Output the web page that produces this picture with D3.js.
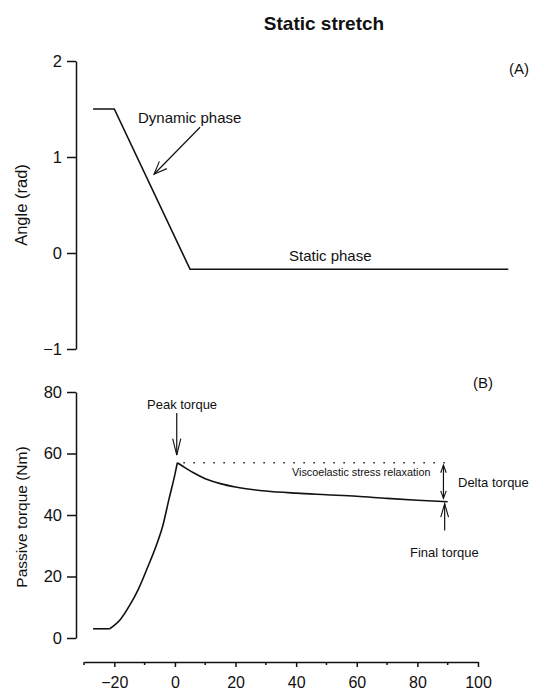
<!DOCTYPE html>
<html><head><meta charset="utf-8">
<script src="https://cdn.jsdelivr.net/npm/d3@7"></script>
<style>
body{margin:0;background:#fff}
svg{display:block}
text{font-family:"Liberation Sans",Arial,sans-serif;fill:#111}
</style>
</head><body>
<svg id="c" width="546" height="693"></svg>
<script>
// ---- data ----
const angleTime   = [-27, -20, 5, 110];
const angleValues = [1.5, 1.5, -0.17, -0.17];

const torqueTime   = [-27, -21.5, -18, -15, -12, -9, -6, -4, -2, 0, 0.8, 3, 6, 10, 15, 20, 30, 40, 50, 60, 70, 80, 90];
const torqueValues = [3, 3, 6, 10.5, 16, 23, 30.5, 36.5, 45, 53.2, 57, 55.6, 53.8, 51.8, 50.2, 49.1, 47.8, 47.1, 46.6, 46.1, 45.4, 44.8, 44.3];

const xTicks      = [-20, 0, 20, 40, 60, 80, 100];
const xMinorTicks = [-30, -10, 10, 30, 50, 70, 90];
const angleTicks  = [2, 1, 0, -1];
const torqueTicks = [0, 20, 40, 60, 80];

const peakTorque = 57, finalTorque = 44.3;
const peakTime = 0.8, finalTime = 90;

// ---- scales ----
const svg = d3.select("#c");
const x  = d3.scaleLinear().domain([-30, 100]).range([84, 478]);
const yA = d3.scaleLinear().domain([-1, 2]).range([349, 61]);
const yB = d3.scaleLinear().domain([0, 80]).range([638, 392]);
const axisX = 76;
const ink = "#111";

// title
svg.append("text").attr("x", 324).attr("y", 23).attr("text-anchor", "middle")
  .attr("dominant-baseline", "central").style("font-size", "19px").style("font-weight", "bold")
  .text("Static stretch");

function styleAxis(g, fs){
  g.select(".domain").attr("stroke", ink).attr("stroke-width", 1.5);
  g.selectAll(".tick line").attr("stroke", ink).attr("stroke-width", 1.5);
  g.selectAll(".tick text").style("font-size", fs).attr("fill", ink)
    .style("font-family", '"Liberation Sans",Arial,sans-serif');
}

// ---- panel A ----
const gA = svg.append("g").attr("transform", `translate(${axisX},0)`)
  .call(d3.axisLeft(yA).tickValues(angleTicks).tickSize(9).tickSizeOuter(0).tickPadding(5).tickFormat(d3.format("d")));
styleAxis(gA, "16.5px");

svg.append("text").attr("transform", `translate(21,${(yA(2) + yA(-1)) / 2}) rotate(-90)`)
  .attr("text-anchor", "middle").attr("dominant-baseline", "central").style("font-size", "16.5px")
  .text("Angle (rad)");

const lineA = d3.line().x((d, i) => x(angleTime[i])).y(d => yA(d));
svg.append("path").datum(angleValues).attr("d", lineA)
  .attr("fill", "none").attr("stroke", ink).attr("stroke-width", 1.6);

svg.append("text").attr("x", 519).attr("y", 68).attr("text-anchor", "middle")
  .attr("dominant-baseline", "central").style("font-size", "15px").text("(A)");

svg.append("text").attr("x", 138).attr("y", 117).attr("dominant-baseline", "central")
  .style("font-size", "15px").text("Dynamic phase");
svg.append("text").attr("x", 289).attr("y", 255).attr("dominant-baseline", "central")
  .style("font-size", "15px").text("Static phase");

function arrow(x1, y1, x2, y2, len, ang, both){
  svg.append("line").attr("x1", x1).attr("y1", y1).attr("x2", x2).attr("y2", y2)
    .attr("stroke", ink).attr("stroke-width", 1.2);
  const head = (tx, ty, fx, fy) => {
    const a = Math.atan2(fy - ty, fx - tx);
    const p1 = [tx + len*Math.cos(a+ang), ty + len*Math.sin(a+ang)];
    const p2 = [tx + len*Math.cos(a-ang), ty + len*Math.sin(a-ang)];
    svg.append("path").attr("d", `M${p1}L${tx},${ty}L${p2}`)
      .attr("fill", "none").attr("stroke", ink).attr("stroke-width", 1.1);
  };
  head(x2, y2, x1, y1);
  if (both) head(x1, y1, x2, y2);
}
// dynamic phase arrow
arrow(x(8.3), yA(1.31), x(-6.9), yA(0.82), 14, 0.38);

// ---- panel B ----
const gB = svg.append("g").attr("transform", `translate(${axisX},0)`)
  .call(d3.axisLeft(yB).tickValues(torqueTicks).tickSize(9).tickSizeOuter(0).tickPadding(5));
styleAxis(gB, "16.5px");

svg.append("text").attr("transform", `translate(21,517) rotate(-90)`)
  .attr("text-anchor", "middle").attr("dominant-baseline", "central").style("font-size", "15.5px")
  .text("Passive torque (Nm)");

// split at peak so the peak stays sharp
const iPeak = d3.maxIndex(torqueValues);
const pts = torqueTime.map((t, i) => [t, torqueValues[i]]);
const lineB = d3.line().curve(d3.curveMonotoneX).x(d => x(d[0])).y(d => yB(d[1]));
[pts.slice(1, iPeak + 1), pts.slice(iPeak)].forEach(seg => {
  svg.append("path").datum(seg).attr("d", lineB)
    .attr("fill", "none").attr("stroke", ink).attr("stroke-width", 1.6);
});
svg.append("path").datum(pts.slice(0, 2)).attr("d", d3.line().x(d => x(d[0])).y(d => yB(d[1])))
  .attr("fill", "none").attr("stroke", ink).attr("stroke-width", 1.6);

// dotted peak reference
svg.append("line").attr("x1", x(peakTime + 2)).attr("x2", x(finalTime))
  .attr("y1", yB(peakTorque)).attr("y2", yB(peakTorque))
  .attr("stroke", ink).attr("stroke-width", 1.4).attr("stroke-dasharray", "1.4,8.6");

svg.append("text").attr("x", 483).attr("y", 382).attr("text-anchor", "middle")
  .attr("dominant-baseline", "central").style("font-size", "15px").text("(B)");

svg.append("text").attr("x", 147).attr("y", 404).attr("dominant-baseline", "central")
  .style("font-size", "13px").text("Peak torque");
arrow(x(peakTime - 0.2), yB(73.2), x(peakTime - 0.2), yB(59.5), 17, 0.24);

svg.append("text").attr("x", 292).attr("y", 472).attr("dominant-baseline", "central")
  .style("font-size", "10.8px").text("Viscoelastic stress relaxation");

arrow(x(88.6), yB(56.2), x(88.6), yB(45.4), 8, 0.35, true);
svg.append("text").attr("x", 458).attr("y", 482).attr("dominant-baseline", "central")
  .style("font-size", "13px").text("Delta torque");

arrow(x(89), yB(35), x(89), yB(finalTorque - 0.6), 14, 0.28);
svg.append("text").attr("x", 410).attr("y", 552).attr("dominant-baseline", "central")
  .style("font-size", "13px").text("Final torque");

// ---- x axis ----
const axisY = 662;
const gX = svg.append("g").attr("transform", `translate(0,${axisY})`)
  .call(d3.axisBottom(x).tickValues(xTicks).tickSize(5).tickSizeOuter(0).tickPadding(10));
styleAxis(gX, "16px");
svg.append("g").attr("transform", `translate(0,${axisY})`)
  .selectAll("line").data(xMinorTicks).join("line")
  .attr("x1", d => x(d)).attr("x2", d => x(d)).attr("y1", 0).attr("y2", 3)
  .attr("stroke", ink).attr("stroke-width", 1.5);
</script>
</body></html>
